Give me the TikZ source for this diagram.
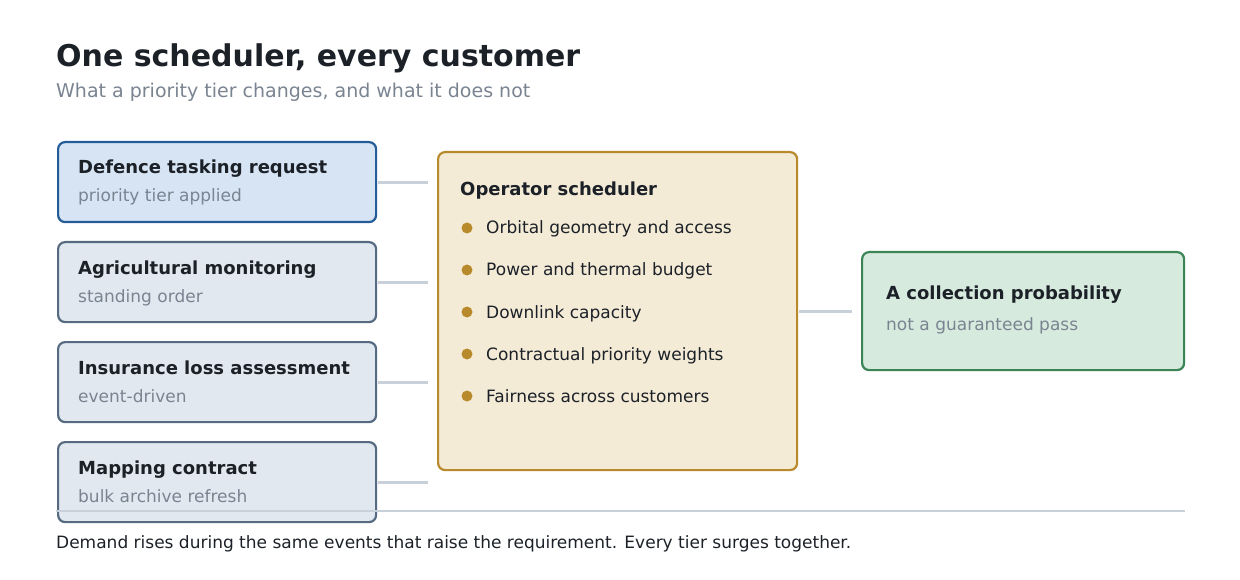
\documentclass[tikz,border=0pt]{standalone}
\usepackage{fontspec}
\setmainfont{DejaVu Sans}
\usepackage{xcolor}
\definecolor{ink}{HTML}{1C2128}
\definecolor{muted}{HTML}{7A8491}
\definecolor{wire}{HTML}{C8D0D9}
\definecolor{defFill}{HTML}{D7E4F4}
\definecolor{defLine}{HTML}{245C98}
\definecolor{reqFill}{HTML}{E1E8F0}
\definecolor{reqLine}{HTML}{566B82}
\definecolor{schFill}{HTML}{F4EBD7}
\definecolor{schLine}{HTML}{B88A2C}
\definecolor{outFill}{HTML}{D7EADE}
\definecolor{outLine}{HTML}{3A8456}

\begin{document}
\begin{tikzpicture}[x=1pt,y=-1pt,
    req/.style={rectangle,rounded corners=7,line width=2.2,draw=reqLine,fill=reqFill,
      minimum width=318,minimum height=80,anchor=north west,inner sep=0},
    defreq/.style={req,draw=defLine,fill=defFill},
    sched/.style={rectangle,rounded corners=7,line width=2.2,draw=schLine,fill=schFill,
      minimum width=359,minimum height=318,anchor=north west,inner sep=0},
    result/.style={rectangle,rounded corners=7,line width=2.2,draw=outLine,fill=outFill,
      minimum width=322,minimum height=118,anchor=north west,inner sep=0},
    head/.style={anchor=base west,inner sep=0,text=ink,font=\fontsize{18}{21}\selectfont\bfseries},
    sub/.style={anchor=base west,inner sep=0,text=muted,font=\fontsize{17}{20}\selectfont},
    item/.style={anchor=base west,inner sep=0,text=ink,font=\fontsize{17}{20}\selectfont},
    dot/.style={circle,fill=schLine,inner sep=0,minimum size=11},
    link/.style={draw=wire,line width=3},]
\useasboundingbox (0,0) rectangle (1240,580);
% heading
\node[anchor=base west,inner sep=0,text=ink,font=\fontsize{30}{34}\selectfont\bfseries] (title) at (56,67) {One scheduler, every customer};
\node[anchor=base west,inner sep=0,text=muted,font=\fontsize{19}{22}\selectfont] (subtitle) at (56,98) {What a priority tier changes, and what it does not};
% customers
\node[defreq] (req1) at (57,141) {};
\node[req] (req2) at (57,241) {};
\node[req] (req3) at (57,341) {};
\node[req] (req4) at (57,441) {};
\node[head] at (78,174) {Defence tasking request};
\node[sub] at (78,202) {priority tier applied};
\node[head] at (78,274) {Agricultural monitoring};
\node[sub] at (78,302) {standing order};
\node[head] at (78,374) {Insurance loss assessment};
\node[sub] at (78,402) {event-driven};
\node[head] at (78,474) {Mapping contract};
\node[sub] at (78,502) {bulk archive refresh};
% scheduler
\node[sched] (sched) at (437,151) {};
\node[head] (schedt) at (460,196) {Operator scheduler};
\foreach \txt [count=\i] in {Orbital geometry and access,Power and thermal budget,
    Downlink capacity,Contractual priority weights,Fairness across customers}
  {\node[dot] (dot\i) at (467,186+42*\i) {};
   \node[item] at (486,192+42*\i) {\txt};}
% outcome
\node[result] (out) at (861,251) {};
\node[head] at (886,299) {A collection probability};
\node[sub] at (886,330) {not a guaranteed pass};
% connectors
\foreach \r in {req1,req2,req3,req4}
  \draw[link,shorten <=1,shorten >=9] (\r.east) -- (\r.east -| sched.west);
\draw[link,shorten <=1,shorten >=9] (sched.east |- out.west) -- (out.west);
% footer
\coordinate (rule1) at (56,511);
\coordinate (rule2) at (1185,511);
\draw[draw=wire,line width=2] (rule1) -- (rule2);
\node[anchor=base west,inner sep=0,text=ink,font=\fontsize{17}{20}\selectfont] (note) at (56,548) {Demand rises during the same events that raise the requirement. Every tier surges together.};
\end{tikzpicture}
\end{document}
